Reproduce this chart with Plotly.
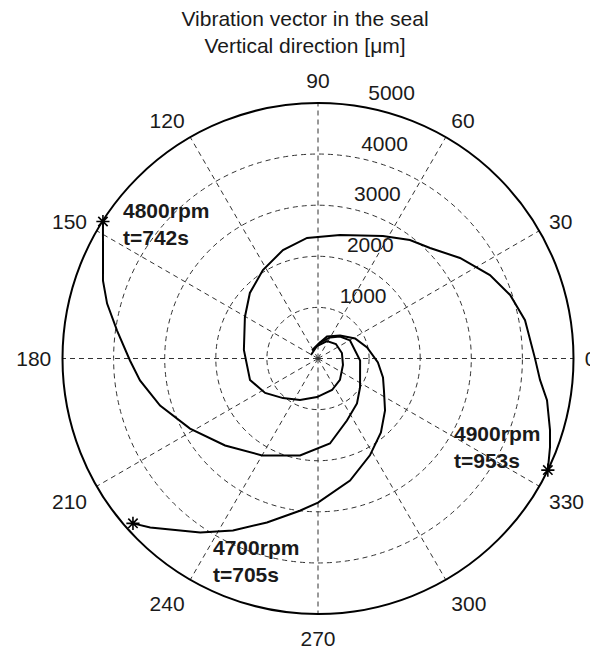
import plotly.graph_objects as go

# ---- data ----
# arm ending at 4700 rpm / t=705 s (first point = marked point)
r_4700 = [4850, 4660, 4110, 3755, 3360, 3000, 2820, 2470, 2150, 1900, 1660, 1435,
          1325, 1175, 985, 825, 625, 465, 315, 210]
th_4700 = [221.7, 225.2, 235.9, 243.7, 252.7, 263.2, 270.0, 284.7, 298.2, 310.4, 322.2, 334.1,
           343.7, 356.2, 12.7, 28.4, 46.3, 67.8, 82.9, 111.8]

# arm ending at 4800 rpm / t=742 s
r_4800 = [4990, 4735, 4475, 4265, 3970, 3680, 3510, 3225, 2855, 2490, 2190, 1930,
          1680, 1340, 1165, 1000, 825, 720, 610, 475, 315, 195]
th_4800 = [147.5, 152.7, 160.1, 165.4, 172.1, 180.6, 187.0, 196.6, 208.7, 223.1, 240.0, 259.5,
           278.0, 295.0, 310.9, 325.4, 357.3, 29.4, 45.0, 60.3, 82.9, 126.9]

# arm ending at 4900 rpm / t=953 s
r_4900 = [5000, 4860, 4750, 4555, 4365, 4245, 4120, 3960, 3740, 3405, 3080, 2935,
          2715, 2455, 2370, 2230, 2040, 1850, 1645, 1460, 1395, 1235, 1035, 885,
          755, 675, 600, 505, 480, 450, 385, 245, 155]
th_4900 = [334.1, 339.1, 342.9, 349.7, 354.5, 0.1, 10.5, 18.3, 25.9, 35.3, 44.6, 52.2,
           62.1, 79.9, 95.2, 107.9, 121.9, 136.1, 150.4, 173.4, 197.5, 213.1, 228.5, 246.6,
           268.5, 294.0, 315.7, 345.4, 12.9, 38.9, 62.8, 94.6, 153.4]

radial_ticks = [1000, 2000, 3000, 4000, 5000]
radial_labels = ["1000", "2000", "3000", "4000", "5000"]
angle_ticks = list(range(0, 360, 30))
angle_labels = [str(a) for a in angle_ticks]

labels = ["4700rpm<br>t=705s", "4800rpm<br>t=742s", "4900rpm<br>t=953s"]

FONT = "Liberation Sans, Arial, Helvetica, sans-serif"
TXT = "#1a1a1a"
PAD = "\u2002\u2009"  # leading gap like the original radial labels

fig = go.Figure()
for r, th in [(r_4700, th_4700), (r_4800, th_4800), (r_4900, th_4900)]:
    fig.add_trace(go.Scatterpolar(r=r, theta=th, mode="lines",
                                  line=dict(color="black", width=2),
                                  showlegend=False, hoverinfo="skip"))

fig.add_trace(go.Scatterpolar(
    r=[r_4700[0], r_4800[0], r_4900[0]],
    theta=[th_4700[0], th_4800[0], th_4900[0]],
    mode="markers",
    marker=dict(symbol="asterisk-open", size=11, color="black",
                line=dict(color="black", width=1.6)),
    showlegend=False, cliponaxis=False))

fig.add_trace(go.Scatterpolar(
    r=radial_ticks, theta=[82] * len(radial_ticks),
    text=[PAD + s for s in radial_labels],
    mode="text", textposition="top right",
    textfont=dict(family=FONT, size=21, color=TXT),
    showlegend=False, cliponaxis=False, hoverinfo="skip"))

# the page body adds an 8px offset; figure coords = page coords - 8
OFF = 8
W, H = 590, 645
L, T = 62 - OFF, 103 - OFF
pw, ph = 512, 511
R, B = W - L - pw, H - T - ph


def px(x):
    return (x - OFF - L) / pw


def py(y):
    return (H - B - (y - OFF)) / ph


ann_pos = [(211, 561), (121, 223.5), (452, 447.5)]
annotations = []
for txt, (x, y) in zip(labels, ann_pos):
    annotations.append(dict(text="<b>" + txt + "</b>", x=px(x), y=py(y),
                            xref="paper", yref="paper", xanchor="left", yanchor="middle",
                            align="left", showarrow=False,
                            font=dict(family=FONT, size=21, color=TXT)))

fig.update_layout(
    width=W, height=H,
    margin=dict(l=L, r=R, t=T, b=B, autoexpand=False),
    paper_bgcolor="white",
    font=dict(family=FONT, size=21, color=TXT),
    title=dict(text="Vibration vector in the seal<br>Vertical direction [\u03bcm]",
               x=(305 - OFF) / W, xanchor="center", y=1 - 18 / H, yanchor="top",
               font=dict(family=FONT, size=21, color=TXT)),
    annotations=annotations,
    polar=dict(
        bgcolor="white",
        domain=dict(x=[0, 1], y=[0, 1]),
        radialaxis=dict(range=[0, 5000], tickvals=radial_ticks, showticklabels=False,
                        ticks="", showline=False, gridcolor="#333333", gridwidth=1,
                        griddash="5px,4px", layer="below traces"),
        angularaxis=dict(direction="counterclockwise", rotation=0,
                         tickmode="array", tickvals=angle_ticks, ticktext=angle_labels,
                         ticks="outside", ticklen=6, tickcolor="rgba(0,0,0,0)",
                         showline=True, linecolor="black", linewidth=2,
                         gridcolor="#333333", gridwidth=1, griddash="5px,4px",
                         tickfont=dict(family=FONT, size=21, color=TXT),
                         layer="below traces"),
    ),
)

fig.write_html("out.html")
